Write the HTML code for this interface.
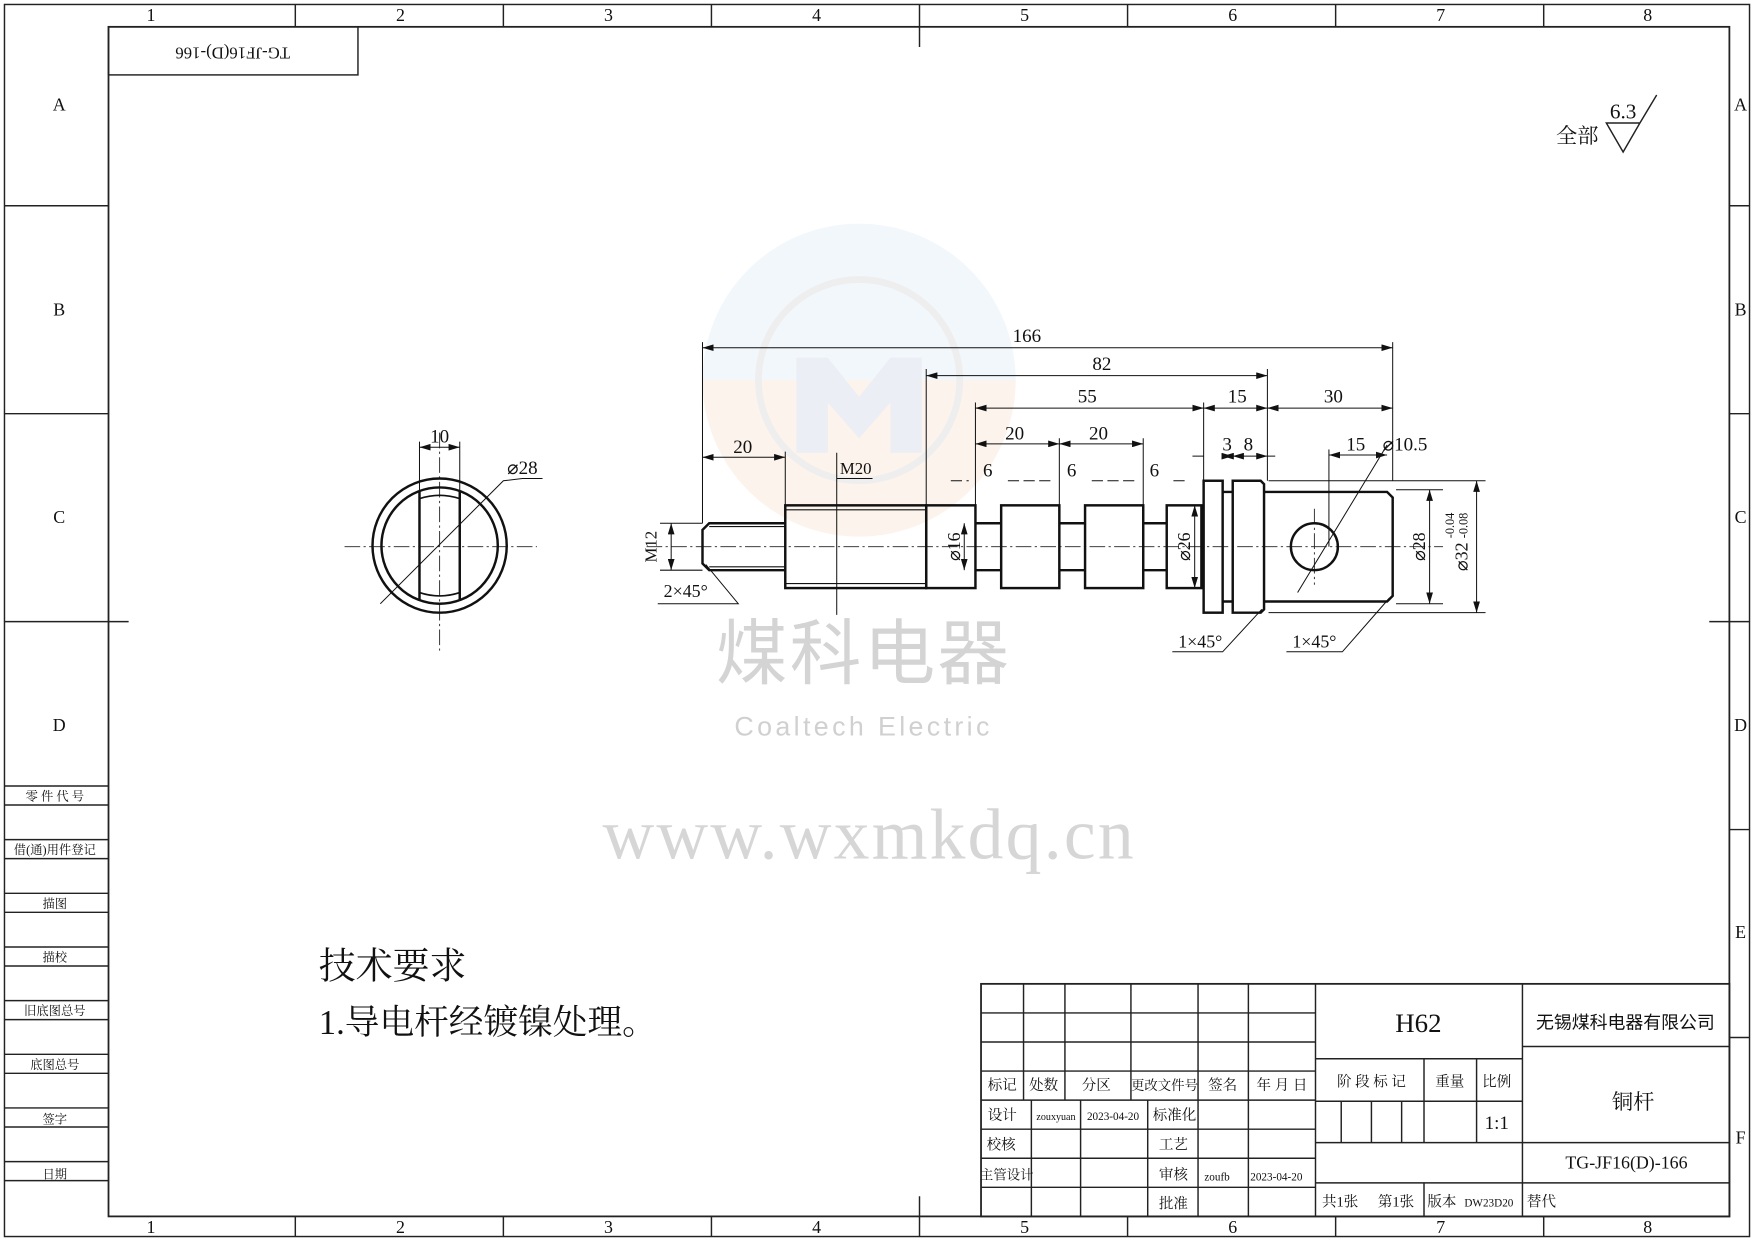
<!DOCTYPE html>
<html><head><meta charset="utf-8"><style>
html,body{margin:0;padding:0;background:#fff}
svg{display:block}
text{font-family:"Liberation Serif","Noto Serif CJK SC","Noto Sans CJK SC",serif;fill:#111}
.s{font-family:"Liberation Sans","Noto Sans CJK SC",sans-serif}
</style></head><body>
<svg width="1754" height="1241" viewBox="0 0 1568 1110" preserveAspectRatio="none" xmlns="http://www.w3.org/2000/svg">
<defs>
<marker id="a" viewBox="0 0 10 6" refX="10" refY="3" markerWidth="10" markerHeight="6" orient="auto-start-reverse" markerUnits="userSpaceOnUse"><path d="M0 0L10 3L0 6Z" fill="#111"/></marker>
</defs>
<!-- watermark -->
<g opacity="0.35">
<clipPath id="c"><circle cx="768" cy="340" r="140"/></clipPath>
<g clip-path="url(#c)"><rect x="620" y="200" width="300" height="140" fill="#dbe9f5"/><rect x="620" y="340" width="300" height="150" fill="#f6ddc9"/></g>
<circle cx="768" cy="340" r="90" fill="none" stroke="#d0d0d0" stroke-width="6"/>
<path d="M712 320 L712 405 L740 405 L740 360 L768 392 L796 360 L796 405 L824 405 L824 320 L796 320 L768 355 L740 320Z" fill="#c8cfe0"/>
</g>
<text x="772" y="607" text-anchor="middle" class="s" font-size="64" style="fill:#d4d4d4" letter-spacing="2">煤科电器</text>
<text x="772" y="658" text-anchor="middle" class="s" font-size="24" style="fill:#d0d0d0" letter-spacing="3">Coaltech Electric</text>
<text x="777" y="768" text-anchor="middle" font-size="64" style="fill:#d6d6d6" letter-spacing="2">www.wxmkdq.cn</text>

<g fill="none" stroke="#222" stroke-width="1.3">
<rect x="4" y="4" width="1560" height="1102"/>
<rect x="97" y="24" width="1449" height="1064" stroke-width="1.6"/>
<path d="M264 4V24M450 4V24M636 4V24M822 4V42M1008 4V24M1194 4V24M1380 4V24"/>
<path d="M264 1088V1106M450 1088V1106M636 1088V1106M822 1070V1106M1008 1088V1106M1194 1088V1106M1380 1088V1106"/>
<path d="M4 184H97M4 370H97M4 556H115M1546 184H1564M1546 370H1564M1528 556H1564M1546 742H1564M1546 928H1564"/>
<path d="M4 703H97M4 720H97M4 751H97M4 768H97M4 799H97M4 816H97M4 847H97M4 864H97M4 895H97M4 912H97M4 943H97M4 960H97M4 991H97M4 1008H97M4 1039H97M4 1056H97"/>
<rect x="97" y="24" width="223" height="43"/>
<rect x="877" y="880" width="669" height="208" stroke-width="1.6"/>
<path d="M877 906H1176M877 932H1176M877 958H1176M877 984H1176M877 1010H1176M877 1036H1176M877 1062H1176"/>
<path d="M915 880V984M952 880V984M1011 880V984M1071 880V1088M1116 880V1088M1176 880V1088"/>
<path d="M922 984V1088M966 984V1088M1026 984V1088"/>
<path d="M1361 880V1088M1176 947H1361M1176 985H1361M1176 1022H1546M1176 1058H1546M1361 936H1546"/>
<path d="M1199 985V1022M1226 985V1022M1253 985V1022M1273 947V1022M1320 947V1022M1273 1058V1088"/>
</g>
<g font-size="16" text-anchor="middle">
<text x="135" y="19">1</text><text x="358" y="19">2</text><text x="544" y="19">3</text><text x="730" y="19">4</text><text x="916" y="19">5</text><text x="1102" y="19">6</text><text x="1288" y="19">7</text><text x="1473" y="19">8</text>
<text x="135" y="1103">1</text><text x="358" y="1103">2</text><text x="544" y="1103">3</text><text x="730" y="1103">4</text><text x="916" y="1103">5</text><text x="1102" y="1103">6</text><text x="1288" y="1103">7</text><text x="1473" y="1103">8</text>
<text x="53" y="99">A</text><text x="53" y="282">B</text><text x="53" y="468">C</text><text x="53" y="654">D</text>
<text x="1556" y="99">A</text><text x="1556" y="282">B</text><text x="1556" y="468">C</text><text x="1556" y="654">D</text><text x="1556" y="839">E</text><text x="1556" y="1023">F</text>
</g>
<text transform="translate(208,46) rotate(180)" font-size="15" text-anchor="middle" dominant-baseline="middle">TG-JF16(D)-166</text>
<g class="s" font-size="11" text-anchor="middle">
<text x="49" y="716">零 件 代 号</text><text x="49" y="764">借(通)用件登记</text><text x="49" y="812">描图</text><text x="49" y="860">描校</text><text x="49" y="908">旧底图总号</text><text x="49" y="956">底图总号</text><text x="49" y="1005">签字</text><text x="49" y="1054">日期</text>
</g>
<g font-size="13" text-anchor="middle">
<text x="896" y="975">标记</text><text x="933" y="975">处数</text><text x="980" y="975">分区</text><text x="1041" y="975" font-size="12">更改文件号</text><text x="1093" y="975">签名</text><text x="1146" y="975">年 月 日</text>
<text x="896" y="1002">设计</text><text x="944" y="1002" font-size="9">zouxyuan</text><text x="995" y="1002" font-size="10">2023-04-20</text><text x="1050" y="1002">标准化</text>
<text x="895" y="1028">校核</text><text x="1049" y="1028">工艺</text>
<text x="900" y="1055" font-size="12">主管设计</text><text x="1049" y="1055">审核</text><text x="1088" y="1056" font-size="10">zoufb</text><text x="1141" y="1056" font-size="10">2023-04-20</text>
<text x="1049" y="1081">批准</text>
<text x="1268" y="923" font-size="24">H62</text>
<text x="1453" y="920" class="s" font-size="16">无锡煤科电器有限公司</text>
<text x="1226" y="972">阶 段 标 记</text><text x="1296" y="972">重量</text><text x="1338" y="972">比例</text>
<text x="1338" y="1010" font-size="17">1:1</text>
<text x="1460" y="992" font-size="19">铜杆</text>
<text x="1454" y="1045" font-size="16">TG-JF16(D)-166</text>
<text x="1198" y="1079">共1张</text><text x="1248" y="1079">第1张</text><text x="1289" y="1079">版本</text><text x="1331" y="1079" font-size="10">DW23D20</text><text x="1378" y="1079">替代</text>
</g>
<text x="285" y="875" font-size="33">技术要求</text>
<text x="285" y="925" font-size="31">1.导电杆经镀镍处理。</text>
<text x="1410" y="128" font-size="19" text-anchor="middle">全部</text>
<text x="1451" y="106" font-size="19" text-anchor="middle">6.3</text>
<path d="M1436 110H1466L1451 136Z M1466 110L1481 85" fill="none" stroke="#222" stroke-width="1.3"/>

<g stroke="#222" stroke-width="0.8" stroke-dasharray="14 3 2 3" fill="none">
<path d="M578 489H1290"/><path d="M308 489H480"/><path d="M393 387V582"/><path d="M1175 455V523"/>
</g>
<g fill="none" stroke="#111" stroke-width="2.2">
<path d="M702 468H634L628 474V504L634 510H702"/>
<path d="M634 471H702M634 507H702" stroke-width="1"/>
<rect x="702" y="452" width="126" height="74"/>
<path d="M702 456H828M702 522H828" stroke-width="1"/>
<rect x="828" y="452" width="44" height="74"/>
<path d="M872 468H895M872 510H895"/>
<rect x="895" y="452" width="52" height="74"/>
<path d="M947 468H970M947 510H970"/>
<rect x="970" y="452" width="52" height="74"/>
<path d="M1022 468H1043M1022 510H1043"/>
<rect x="1043" y="452" width="31" height="74"/>
<rect x="1076" y="430" width="17" height="118"/>
<path d="M1093 440H1102M1093 538H1102"/>
<path d="M1102 430H1127L1130 433V545L1127 548H1102Z"/>
<path d="M1130 440H1240L1245 445V533L1240 538H1130"/>
<circle cx="1175" cy="489" r="21"/>
</g>
<g fill="none" stroke="#111" stroke-width="2.2">
<circle cx="393" cy="488" r="60"/><circle cx="393" cy="488" r="52"/>
<path d="M375 440V537M411 440V537"/>
<path d="M375 446Q393 440 411 446M375 530Q393 536 411 530" stroke-width="1.5"/>
</g>
<g fill="none" stroke="#111" stroke-width="0.9">
<path d="M628 306V468M1245 306V430M828 330V452M1133 330V430M872 360V452M1076 360V430"/>
<path d="M947 392V452M1022 392V452M702 404V452M628 404V466"/>
<path d="M375 395V440M411 395V440"/>
<path d="M1188 402V489"/>
<path d="M1248 438H1290M1248 540H1290M1134 430H1328M1134 548H1328"/>
<path d="M590 468H628M590 510H628"/>
<path d="M850 430H866M901 430H941M976 430H1016M1049 430H1060" stroke-dasharray="10 4"/>
<path d="M1066 408H1076M1133 408H1140"/>
<path d="M631 505L660 540H588"/>
<path d="M1128 545L1093 583H1048"/>
<path d="M1242 535L1200 583H1150"/>
<path d="M1240 398L1160 530"/>
<path d="M340 540L450 430L467 428H485"/>
<path d="M748 405V550M748 428H780"/>
</g>
<g fill="none" stroke="#111" stroke-width="0.9" marker-start="url(#a)" marker-end="url(#a)">
<path d="M628 311H1245"/><path d="M828 336H1133"/>
<path d="M872 365H1076"/><path d="M1076 365H1133"/><path d="M1133 365H1245"/>
<path d="M628 409H702"/><path d="M872 397H947"/><path d="M947 397H1022"/>
<path d="M1093 408H1102"/><path d="M1102 408H1133"/>
<path d="M1188 407H1240"/>
<path d="M375 400H411"/>
<path d="M862 468V510"/><path d="M1068 452V526"/>
<path d="M1278 438V540"/><path d="M1320 430V548"/>
<path d="M600 468V510"/>
</g>
<g font-size="17" text-anchor="middle">
<text x="918" y="306">166</text><text x="985" y="331">82</text><text x="972" y="360">55</text><text x="1106" y="360">15</text><text x="1192" y="360">30</text>
<text x="664" y="405">20</text><text x="907" y="393">20</text><text x="982" y="393">20</text>
<text x="883" y="426">6</text><text x="958" y="426">6</text><text x="1032" y="426">6</text>
<text x="1097" y="403">3</text><text x="1116" y="403">8</text>
<text x="1212" y="403">15</text><text x="1256" y="403">⌀10.5</text>
<text x="765" y="424" font-size="15">M20</text>
<text x="613" y="534" font-size="16">2×45°</text>
<text x="1073" y="579" font-size="16">1×45°</text>
<text x="1175" y="579" font-size="16">1×45°</text>
<text x="393" y="396">10</text><text x="467" y="424">⌀28</text>
<text transform="translate(587,489) rotate(-90)" font-size="15">M12</text>
<text transform="translate(858,489) rotate(-90)" font-size="16">⌀16</text>
<text transform="translate(1064,489) rotate(-90)" font-size="16">⌀26</text>
<text transform="translate(1274,489) rotate(-90)" font-size="16">⌀28</text>
<text transform="translate(1312,498) rotate(-90)" font-size="16">⌀32</text>
<text transform="translate(1300,470) rotate(-90)" font-size="11">-0.04</text>
<text transform="translate(1312,470) rotate(-90)" font-size="11">-0.08</text>
</g>
</svg>
</body></html>
